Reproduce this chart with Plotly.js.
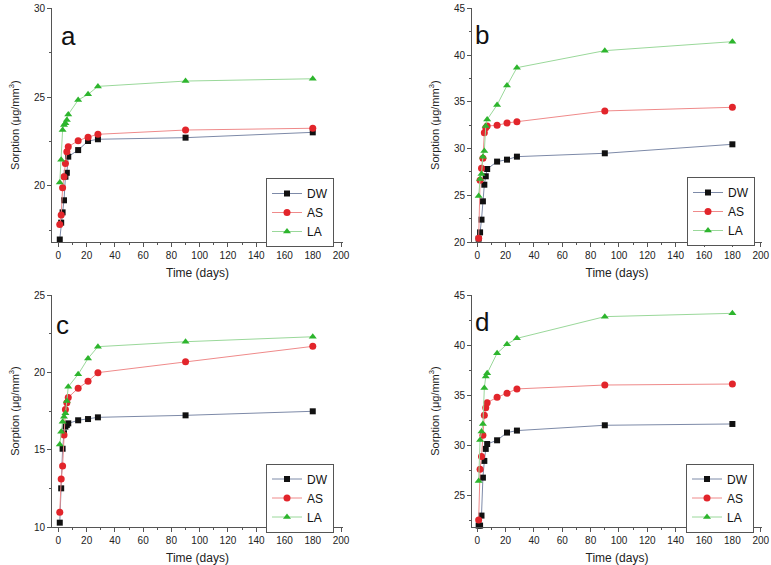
<!DOCTYPE html>
<html>
<head>
<meta charset="utf-8">
<script src="https://cdn.plot.ly/plotly-3.0.1.min.js"></script>
<style>html,body{margin:0;padding:0;background:#fff;}#chart{width:771px;height:565px;}</style>
</head>
<body>
<div id="chart"></div>
<script>
// Time points (days)
const days = [1, 2, 3, 4, 5, 6, 7, 14, 21, 28, 90, 180];
const seriesNames = ["DW", "AS", "LA"];
const panelLabels = ["a", "b", "c", "d"];
const xTickLabels = ["0","20","40","60","80","100","120","140","160","180","200"];

// Panel a
const a_DW = [16.97, 17.92, 18.5, 19.18, 20.51, 20.73, 21.64, 22.01, 22.52, 22.62, 22.71, 23.01];
const a_AS = [17.82, 18.35, 19.89, 20.51, 21.26, 21.92, 22.2, 22.54, 22.74, 22.9, 23.14, 23.24];
const a_LA = [20.19, 21.47, 23.14, 23.42, 23.52, 23.7, 24.02, 24.83, 25.15, 25.6, 25.9, 26.03];
// Panel b
const b_DW = [20.35, 21.03, 22.39, 24.35, 26.13, 27.03, 27.81, 28.6, 28.81, 29.13, 29.49, 30.45];
const b_AS = [20.4, 26.6, 27.88, 28.95, 31.7, 32.23, 32.41, 32.48, 32.73, 32.87, 34.02, 34.41];
const b_LA = [24.92, 26.74, 27.28, 29.13, 29.74, 32.41, 33.1, 34.66, 36.73, 38.65, 40.47, 41.43];
// Panel c
const c_DW = [10.28, 12.5, 15.06, 16.06, 16.49, 16.6, 16.7, 16.9, 16.98, 17.09, 17.22, 17.48];
const c_AS = [10.95, 13.1, 13.94, 15.95, 17.6, 18.04, 18.38, 18.97, 19.42, 19.98, 20.69, 21.68];
const c_LA = [15.34, 16.16, 16.81, 17.13, 17.35, 18.15, 19.07, 19.87, 20.9, 21.66, 21.98, 22.3];
// Panel d
const d_DW = [21.97, 21.97, 22.97, 26.76, 28.43, 29.63, 30.12, 30.49, 31.26, 31.46, 31.99, 32.12];
const d_AS = [22.54, 27.6, 28.86, 30.99, 32.99, 33.75, 34.25, 34.78, 35.18, 35.62, 36.01, 36.11];
const d_LA = [26.43, 30.52, 31.36, 32.12, 35.72, 36.85, 37.18, 39.18, 40.08, 40.67, 42.84, 43.17];

const panelData = [[a_DW, a_AS, a_LA], [b_DW, b_AS, b_LA], [c_DW, c_AS, c_LA], [d_DW, d_AS, d_LA]];
const yRanges = [[16.83, 30], [20, 45], [10, 25], [21.83, 45]];

const W = 771, H = 565;
const FONT = "Liberation Sans, Arial, Helvetica, sans-serif";
const styles = [
  {marker: {symbol: "square", size: 6, color: "#111111"}, line: {color: "#7d8aa8", width: 1}},
  {marker: {symbol: "circle", size: 7, color: "#e2252b"}, line: {color: "#ef8a8a", width: 1}},
  {marker: {symbol: "triangle-up", size: 7, color: "#2db52d"}, line: {color: "#9ad89a", width: 1}}
];

// pixel boxes for the four plot areas [x0, x1, y0(top), y1(bottom)]
const boxes = [[52, 343, 8.3, 242], [472, 762, 8.3, 242], [52, 343, 295, 527], [472, 762, 295, 527]];
const xRanges = [[-4.5, 201.4], [-3.7, 200.9], [-4.5, 201.4], [-3.7, 200.9]];
const legendPos = [[334, 212.5], [755, 211.5], [334, 498], [754, 498]];
const labelPos = [[59, 36], [473, 35], [54, 325], [473, 322]];

const traces = [];
const layout = {
  width: W, height: H, autosize: false,
  margin: {l: 0, r: 0, t: 0, b: 0},
  paper_bgcolor: "#ffffff", plot_bgcolor: "#ffffff",
  font: {family: FONT, color: "#222"},
  annotations: [],
  showlegend: true
};

for (let p = 0; p < 4; p++) {
  const n = p === 0 ? "" : String(p + 1);
  const legName = "legend" + n;
  for (let s = 0; s < 3; s++) {
    traces.push({
      type: "scatter", mode: "lines+markers",
      x: days, y: panelData[p][s], name: seriesNames[s],
      xaxis: "x" + n, yaxis: "y" + n,
      legend: legName,
      marker: styles[s].marker, line: styles[s].line,
      cliponaxis: false
    });
  }
  const b = boxes[p];
  const axCommon = {
    showgrid: false, zeroline: false, showline: true, linecolor: "#555", linewidth: 1,
    ticks: "outside", ticklen: 4, tickcolor: "#555", tickwidth: 1,
    tickfont: {family: FONT, size: 10, color: "#222"}, mirror: false
  };
  layout["xaxis" + n] = Object.assign({}, axCommon, {
    domain: [b[0] / W, b[1] / W], anchor: "y" + n,
    range: xRanges[p], tickmode: "array",
    tickvals: xTickLabels.map(Number), ticktext: xTickLabels,
    minor: {dtick: 10, tick0: 0, ticks: "outside", ticklen: 2, tickcolor: "#555"},
    title: {text: "Time (days)", font: {family: FONT, size: 12, color: "#222"}, standoff: 8}
  });
  layout["yaxis" + n] = Object.assign({}, axCommon, {
    domain: [1 - b[3] / H, 1 - b[2] / H], anchor: "x" + n,
    range: yRanges[p], tick0: 0, dtick: 5,
    minor: {dtick: 2.5, tick0: 0, ticks: "outside", ticklen: 2, tickcolor: "#555"},
    title: {text: "Sorption (\u03bcg/mm<sup>3</sup>)", font: {family: FONT, size: 11, color: "#222"}, standoff: 12}
  });
  layout[legName] = {
    x: legendPos[p][0] / W, y: 1 - legendPos[p][1] / H, xanchor: "right", yanchor: "middle",
    bordercolor: "#555", borderwidth: 1, bgcolor: "#ffffff",
    font: {family: FONT, size: 12, color: "#111"}, itemwidth: 30, tracegroupgap: 0
  };
  layout.annotations.push({
    xref: "paper", yref: "paper", x: labelPos[p][0] / W, y: 1 - labelPos[p][1] / H,
    xanchor: "left", yanchor: "middle", showarrow: false,
    text: panelLabels[p], font: {family: FONT, size: 26, color: "#111"}
  });
}

Plotly.newPlot("chart", traces, layout, {displayModeBar: false, staticPlot: true});
</script>
</body>
</html>
